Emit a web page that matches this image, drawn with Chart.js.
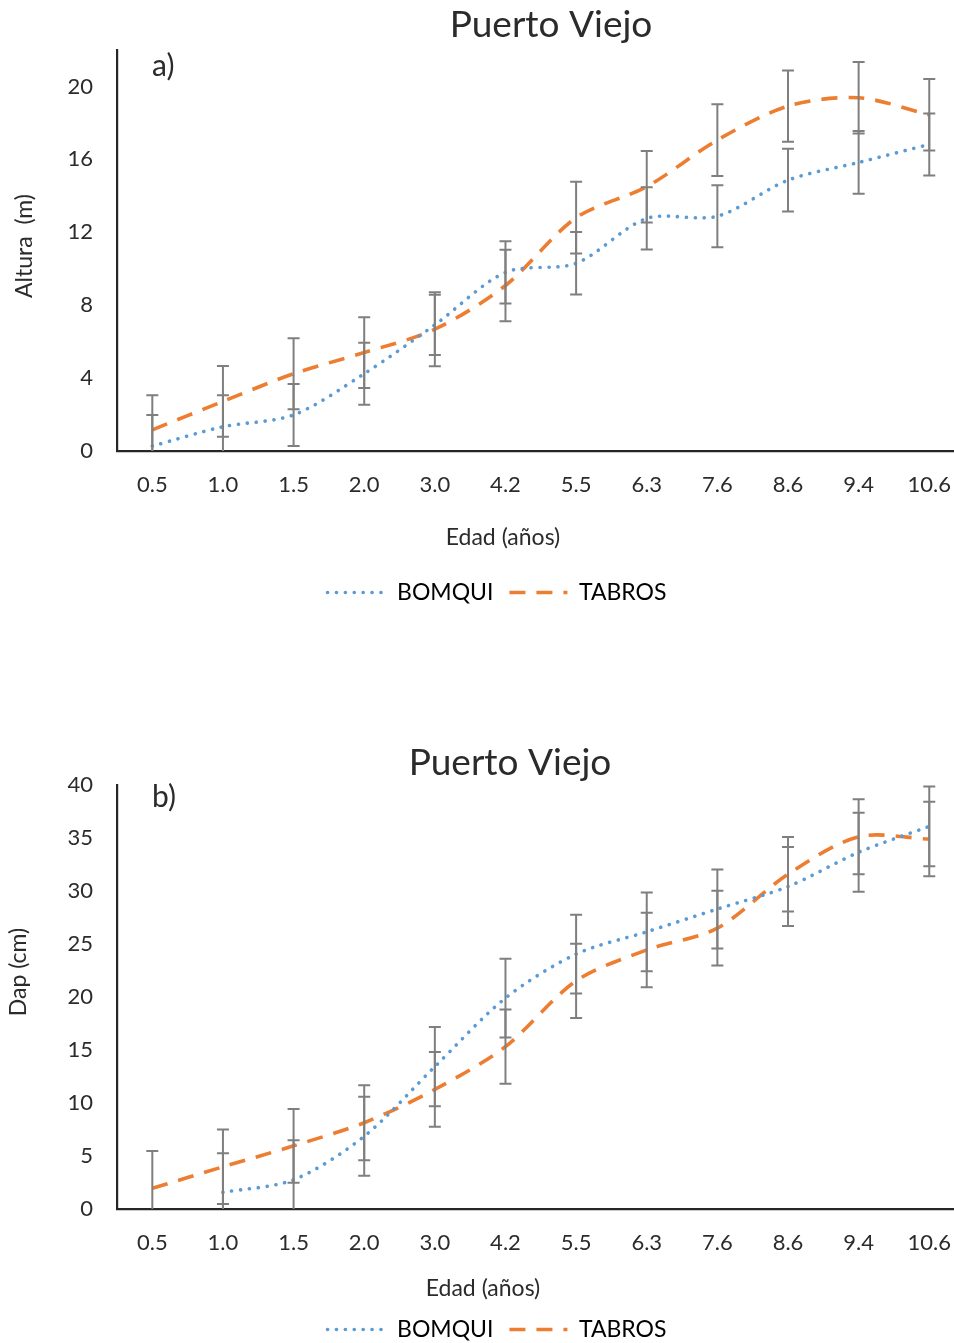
<!DOCTYPE html>
<html>
<head>
<meta charset="utf-8">
<script src="https://cdn.jsdelivr.net/npm/chart.js@4.4.0/dist/chart.umd.min.js"></script>
<style>
  html, body { margin: 0; padding: 0; background: #fff; overflow: hidden; }
  #page { position: relative; width: 954px; height: 1343px; overflow: hidden; }
  canvas { position: absolute; left: 0; }
  #alturaChart { top: 0; }
  #dapChart { top: 730px; }
</style>
</head>
<body>
<div id="page">
  <canvas id="alturaChart" width="972" height="614"></canvas>
  <canvas id="dapChart" width="972" height="621"></canvas>
</div>
<script>
const ageLabels = ['0.5', '1.0', '1.5', '2.0', '3.0', '4.2', '5.5', '6.3', '7.6', '8.6', '9.4', '10.6'];

// a) altura (m)
const alturaBomqui = [0.27, 1.33, 1.98, 4.24, 6.92, 9.8, 10.3, 12.76, 12.88, 14.86, 15.83, 16.82];
const alturaBomquiSd = [1.7, 1.73, 1.7, 1.7, 1.65, 1.71, 1.71, 1.71, 1.7, 1.72, 1.72, 1.7];
const alturaTabros = [1.16, 2.72, 4.24, 5.4, 6.68, 9.08, 12.8, 14.5, 17.06, 18.92, 19.38, 18.45];
const alturaTabrosSd = [1.9, 1.94, 1.95, 1.94, 2.03, 1.96, 1.97, 1.96, 1.97, 1.96, 1.96, 1.96];
const alturaTicks = [0, 4, 8, 12, 16, 20];

// b) dap (cm)
const dapBomqui = [null, 1.57, 2.76, 6.86, 13.43, 19.9, 24.05, 26.15, 28.3, 30.42, 33.65, 36.1];
const dapBomquiSd = [null, 3.7, 3.73, 3.72, 3.73, 3.72, 3.71, 3.72, 3.73, 3.72, 3.73, 3.76];
const dapTabros = [1.95, 3.98, 5.96, 8.14, 11.28, 15.32, 21.52, 24.44, 26.5, 31.58, 35.12, 34.9];
const dapTabrosSd = [3.51, 3.52, 3.48, 3.53, 3.52, 3.51, 3.51, 3.51, 3.52, 3.52, 3.53, 3.51];
const dapTicks = [0, 5, 10, 15, 20, 25, 30, 35, 40];

const BLUE = '#5B9BD5';
const ORANGE = '#ED7D31';
const TEXT = '#2b2b2b';
const FONT = 'Lato';

Chart.defaults.font.family = FONT;
Chart.defaults.color = TEXT;

const errorBars = {
  id: 'errorBars',
  afterDatasetsDraw(chart) {
    const {ctx, chartArea, scales: {x, y}} = chart;
    ctx.save();
    ctx.strokeStyle = '#7F7F7F';
    ctx.lineWidth = 2;
    chart.data.datasets.forEach((ds, i) => {
      if (!chart.isDatasetVisible(i)) return;
      ds.data.forEach((v, j) => {
        const e = ds.errors[j];
        if (v === null || e === null) return;
        const px = x.getPixelForValue(j);
        const hi = y.getPixelForValue(v + e);
        const lo = y.getPixelForValue(v - e);
        const top = Math.max(hi, chartArea.top);
        const bot = Math.min(lo, chartArea.bottom);
        ctx.beginPath();
        ctx.moveTo(px, top);
        ctx.lineTo(px, bot);
        if (hi >= chartArea.top) { ctx.moveTo(px - 6, hi); ctx.lineTo(px + 6, hi); }
        if (lo <= chartArea.bottom) { ctx.moveTo(px - 6, lo); ctx.lineTo(px + 6, lo); }
        ctx.stroke();
      });
    });
    ctx.restore();
  }
};

const panelText = {
  id: 'panelText',
  afterDraw(chart, args, opts) {
    const {ctx} = chart;
    for (const t of opts.items || []) {
      ctx.save();
      ctx.font = `${t.size}px ${FONT}`;
      ctx.fillStyle = TEXT;
      ctx.textAlign = t.align || 'center';
      ctx.textBaseline = 'middle';
      ctx.translate(t.x, t.y);
      if (t.rotate) ctx.rotate(t.rotate);
      ctx.fillText(t.text, 0, 0);
      ctx.restore();
    }
  }
};

function legendItems(chart) {
  return chart.data.datasets.map((ds, i) => ({
    text: ds.label,
    datasetIndex: i,
    pointStyle: 'line',
    strokeStyle: ds.borderColor,
    fillStyle: ds.borderColor,
    lineWidth: ds.borderWidth,
    lineDash: ds.borderDash,
    lineCap: ds.borderCapStyle,
    hidden: !chart.isDatasetVisible(i)
  }));
}

function series(label, data, errors, color, dash, cap) {
  return {
    label, data, errors,
    borderColor: color,
    backgroundColor: color,
    borderWidth: 3.6,
    borderDash: dash,
    borderCapStyle: cap,
    tension: 0.3,
    pointRadius: 0,
    pointHoverRadius: 0,
    fill: false
  };
}

function makeChart(id, o) {
  return new Chart(document.getElementById(id), {
    type: 'line',
    data: {
      labels: ageLabels,
      datasets: [
        series('BOMQUI', o.bomqui, o.bomquiSd, BLUE, [0.1, 8.8], 'round'),
        series('TABROS', o.tabros, o.tabrosSd, ORANGE, [16, 11], 'butt')
      ]
    },
    plugins: [errorBars, panelText],
    options: {
      responsive: false,
      animation: false,
      events: [],
      layout: { padding: { left: 22, top: o.top, right: 0, bottom: 0 } },
      scales: {
        x: {
          type: 'category',
          offset: true,
          grid: { display: false, drawTicks: false },
          border: { display: true, color: '#262626', width: 2.2 },
          ticks: { padding: 21, maxRotation: 0, autoSkip: false, font: { size: 22 } },
          afterFit(scale) { scale.height = o.xHeight; }
        },
        y: {
          min: 0,
          max: o.max,
          grid: { display: false, drawTicks: false },
          border: { display: true, color: '#262626', width: 2.2 },
          ticks: { padding: 24, stepSize: o.ticks[1] - o.ticks[0], includeBounds: false, font: { size: 22 } },
          afterBuildTicks(scale) { scale.ticks = o.ticks.map(value => ({value})); },
          afterFit(scale) { scale.width = 95; }
        }
      },
      plugins: {
        title: { display: false },
        tooltip: { enabled: false },
        legend: {
          position: 'bottom',
          labels: {
            usePointStyle: true,
            pointStyleWidth: 58,
            padding: 16,
            color: TEXT,
            font: { size: 23 },
            generateLabels: legendItems
          }
        },
        panelText: { items: o.texts }
      }
    }
  });
}

makeChart('alturaChart', {
  bomqui: alturaBomqui, bomquiSd: alturaBomquiSd,
  tabros: alturaTabros, tabrosSd: alturaTabrosSd,
  max: 22, ticks: alturaTicks, top: 50, xHeight: 114,
  texts: [
    { text: 'Puerto Viejo', x: 551, y: 25, size: 37 },
    { text: 'a)', x: 152, y: 66, size: 30, align: 'left' },
    { text: 'Altura  (m)', x: 25, y: 246, size: 23, rotate: -Math.PI / 2 },
    { text: 'Edad (años)', x: 503, y: 538, size: 23 }
  ]
});

makeChart('dapChart', {
  bomqui: dapBomqui, bomquiSd: dapBomquiSd,
  tabros: dapTabros, tabrosSd: dapTabrosSd,
  max: 40, ticks: dapTicks, top: 55, xHeight: 93,
  texts: [
    { text: 'Puerto Viejo', x: 510, y: 33, size: 37 },
    { text: 'b)', x: 152, y: 67, size: 30, align: 'left' },
    { text: 'Dap (cm)', x: 19, y: 242, size: 23, rotate: -Math.PI / 2 },
    { text: 'Edad (años)', x: 483, y: 559, size: 23 }
  ]
});
</script>
</body>
</html>
